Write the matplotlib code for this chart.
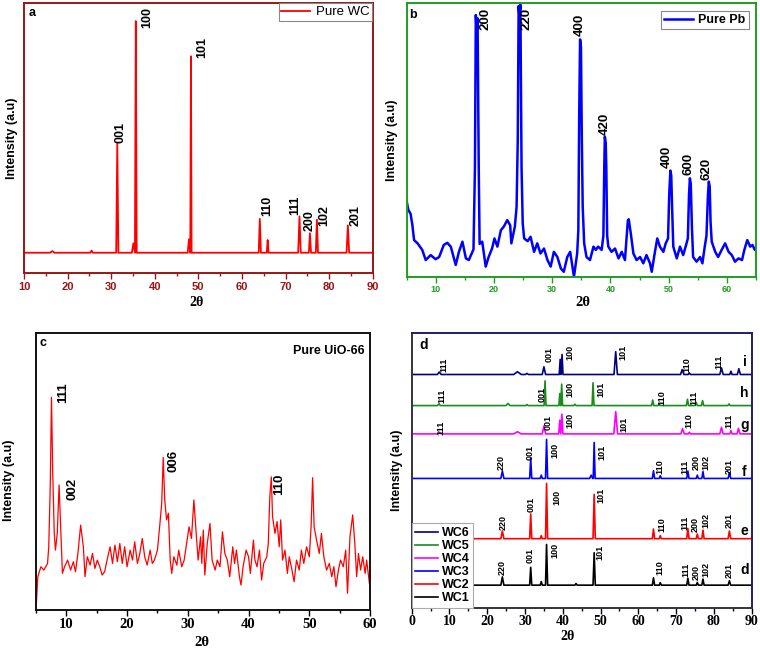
import numpy as np
import matplotlib
matplotlib.use('Agg')
import matplotlib.pyplot as plt
from matplotlib.ticker import MultipleLocator

plt.rcParams['font.family'] = ['Liberation Sans', 'DejaVu Sans']

# ---------------- Panel a : Pure WC (peak list: position, height above baseline, half width)
wc_base = 7.6
wc_pos = [16.5, 25.5, 31.4, 35.1, 35.65, 47.85, 48.3, 64.1, 65.9, 73.2, 75.6, 77.2, 84.3]
wc_hts = [0.6, 0.8, 40.3, 3.5, 85.6, 5.0, 72.6, 12.5, 4.7, 13.4, 7.2, 12.2, 10.1]
wc_wid = [0.5, 0.3, 0.25, 0.35, 0.2, 0.3, 0.15, 0.25, 0.2, 0.3, 0.25, 0.25, 0.3]
wc_labels = ['001', '100', '101', '110', '111', '200', '102', '201']
wc_label_x = [32.1, 38.3, 51.0, 65.9, 72.25, 75.5, 78.9, 86.0]
wc_label_y = [48.1, 90.7, 79.6, 21.0, 21.6, 15.8, 17.3, 17.3]

# ---------------- Panel b : Pure Pb (trace read point by point)
pb_x = [5.0, 5.3, 5.7, 6.0, 6.3, 6.9, 7.7, 8.3, 9.15, 10.0, 10.6, 11.4, 12.0, 12.6, 13.45, 14.0,
        14.6, 15.2, 15.7, 16.3, 16.5, 16.75, 16.9, 17.05, 17.2, 17.4, 17.55, 18.0, 18.6, 19.1,
        19.7, 20.1, 20.6, 21.2, 21.7, 22.3, 22.8, 23.0, 23.6, 23.9, 24.1, 24.25, 24.4, 24.55,
        24.75, 24.95, 25.2, 25.8, 26.3, 26.9, 27.45, 28.0, 28.6, 29.2, 29.75, 30.3, 30.9, 31.5,
        32.0, 32.6, 33.1, 33.4, 33.75, 34.3, 34.5, 34.65, 34.8, 34.95, 35.1, 35.25, 35.5, 35.9,
        36.5, 37.1, 37.5, 37.9, 38.5, 38.8, 38.95, 39.05, 39.2, 39.3, 39.45, 39.65, 40.2, 40.8,
        41.4, 41.95, 42.5, 42.8, 43.0, 43.15, 43.35, 43.5, 43.95, 44.5, 45.1, 45.65, 46.2, 46.8,
        47.1, 47.65, 48.05, 48.5, 49.1, 49.5, 49.9, 50.1, 50.3, 50.45, 50.6, 50.8, 51.4, 51.95,
        52.5, 53.0, 53.3, 53.5, 53.65, 53.8, 54.0, 54.2, 54.8, 55.4, 55.8, 56.2, 56.5, 56.75,
        56.9, 57.05, 57.2, 57.4, 58.0, 58.5, 59.1, 59.7, 60.3, 60.85, 61.4, 62.0, 62.6, 63.0,
        63.5, 64.0, 64.4, 64.8, 65.0]
pb_y = [28.0, 24.5, 23.0, 19.0, 13.4, 12.2, 9.8, 6.1, 7.9, 6.4, 7.2, 11.6, 12.4, 11.0, 4.3, 9.1,
        12.8, 6.7, 6.1, 9.1, 10.0, 40.0, 95.7, 90.0, 94.5, 40.0, 12.0, 12.8, 3.7, 7.2,
        10.4, 14.0, 11.0, 17.0, 18.3, 20.7, 18.8, 12.2, 18.3, 25.6, 50.0, 99.0, 95.0, 99.5,
        40.0, 19.5, 14.0, 13.0, 14.6, 9.1, 12.2, 8.5, 10.3, 6.1, 3.7, 9.1, 7.2, 3.0,
        1.8, 7.2, 9.1, 5.0, 0.0, 8.5, 17.0, 60.0, 86.8, 84.0, 50.0, 25.6, 12.2, 7.2,
        6.1, 11.0, 9.8, 11.0, 9.8, 15.0, 40.0, 51.2, 49.0, 40.0, 15.0, 11.0, 9.1, 10.3,
        6.7, 9.1, 6.1, 14.6, 20.5, 21.0, 18.0, 15.9, 8.5, 6.1, 7.2, 4.9, 7.9, 4.9,
        1.8, 9.1, 14.0, 11.0, 9.1, 12.2, 14.0, 30.0, 38.8, 37.0, 25.0, 11.0, 6.7, 11.0,
        7.9, 11.6, 14.0, 30.0, 36.0, 34.0, 18.0, 7.2, 5.5, 7.2, 4.9, 11.0, 15.0, 30.0,
        34.8, 33.0, 20.0, 12.8, 9.1, 7.2, 9.8, 12.2, 9.1, 7.9, 5.5, 6.7, 6.1, 9.8,
        13.4, 11.0, 11.6, 9.8, 10.5]
pb_labels = ['200', '220', '400', '420', '400', '600', '620']
pb_label_x = [18.55, 25.6, 34.7, 39.0, 49.7, 53.4, 56.5]
pb_label_y = [90.2, 90.2, 88.0, 51.8, 39.6, 37.2, 35.4]

# ---------------- Panel c : Pure UiO-66 (trace read point by point)
uio_x = [5.05, 5.3, 5.8, 6.3, 6.9, 7.1, 7.35, 7.55, 7.75, 8.0, 8.2, 8.5, 8.8, 9.1, 9.35, 9.7,
         10.2, 10.7, 11.15, 11.5, 11.9, 12.35, 12.8, 13.07, 13.45, 13.9, 14.3, 14.7, 15.1, 15.5,
         15.9, 16.3, 16.7, 17.2, 17.6, 18.0, 18.4, 18.8, 19.2, 19.6, 20.0, 20.5, 20.9, 21.25,
         21.7, 22.1, 22.5, 22.9, 23.3, 23.8, 24.15, 24.5, 25.0, 25.4, 25.7, 25.95, 26.2, 26.5,
         26.8, 27.1, 27.35, 27.7, 28.2, 28.5, 29.0, 29.4, 29.8, 30.2, 30.6, 31.0, 31.3, 31.7,
         32.1, 32.3, 32.55, 32.8, 33.2, 33.65, 34.0, 34.5, 34.85, 35.3, 35.7, 36.1, 36.5, 36.9,
         37.4, 37.7, 38.0, 38.5, 38.75, 39.1, 39.6, 40.0, 40.3, 40.8, 41.05, 41.4, 41.8, 42.15,
         42.5, 43.0, 43.25, 43.5, 43.75, 43.95, 44.35, 44.7, 45.05, 45.3, 45.6, 46.0, 46.4, 46.7,
         47.1, 47.5, 47.9, 48.35, 48.7, 49.1, 49.55, 50.0, 50.3, 50.55, 50.8, 51.2, 51.65, 52.0,
         52.4, 52.85, 53.3, 53.7, 54.05, 54.4, 54.8, 55.15, 55.6, 56.0, 56.3, 56.7, 57.15, 57.5,
         57.8, 58.1, 58.45, 58.8, 59.2, 59.45, 59.9]
uio_y = [1.8, 12.0, 15.6, 14.4, 16.8, 22.8, 45.0, 76.7, 50.0, 28.0, 21.6, 27.6, 45.1, 27.6, 13.2, 15.6,
         18.0, 14.4, 17.4, 13.8, 20.4, 30.6, 22.8, 12.0, 19.2, 16.2, 20.4, 15.0, 18.0, 15.6,
         12.6, 13.8, 18.0, 22.8, 16.8, 23.4, 17.4, 24.0, 16.8, 22.8, 15.6, 21.6, 18.0, 24.6,
         16.8, 20.4, 25.8, 19.2, 16.2, 21.6, 16.8, 18.0, 21.6, 31.0, 38.5, 55.0, 39.7, 32.5,
         34.9, 18.0, 13.2, 19.2, 16.2, 21.6, 15.6, 18.0, 24.0, 30.0, 25.8, 39.7, 30.0, 18.0,
         26.4, 16.8, 28.8, 12.6, 24.0, 31.2, 18.0, 14.4, 18.0, 15.6, 28.2, 20.4, 18.0, 12.0,
         22.8, 16.8, 21.6, 12.0, 9.0, 15.6, 21.6, 19.2, 13.2, 25.2, 18.0, 15.6, 21.6, 10.8,
         16.8, 19.2, 24.0, 40.9, 48.0, 33.7, 27.6, 31.9, 22.8, 32.5, 18.0, 21.6, 13.2, 19.2,
         15.0, 10.2, 18.0, 14.4, 21.6, 16.8, 22.8, 19.2, 30.0, 47.7, 30.0, 25.2, 20.4, 27.6,
         19.2, 14.4, 16.8, 12.0, 15.6, 8.4, 14.4, 18.0, 15.6, 21.6, 6.0, 26.4, 34.3, 24.0,
         12.0, 20.4, 14.4, 19.2, 13.2, 18.0, 9.6]
uio_labels = ['111', '002', '006', '110']
uio_label_x = [9.5, 11.0, 27.7, 45.1]
uio_label_y = [74.5, 39.7, 49.9, 41.5]

# ---------------- Panel d : composites (peaks: position, height above own baseline, half width)
series_names = ['WC1', 'WC2', 'WC3', 'WC4', 'WC5', 'WC6']
series_letters = ['d', 'e', 'f', 'g', 'h', 'i']
series_base = [8.2, 25.1, 47.0, 63.2, 73.5, 84.8]

wc1_pos = [24.0, 31.5, 34.3, 35.7, 43.5, 48.3, 64.0, 65.8, 73.1, 75.6, 77.1, 84.1]
wc1_hts = [3.0, 6.5, 1.3, 14.8, 0.6, 11.8, 2.7, 0.9, 2.5, 1.0, 2.2, 1.6]
wc1_wid = [0.4, 0.28, 0.28, 0.28, 0.28, 0.3, 0.3, 0.28, 0.3, 0.28, 0.3, 0.35]
wc2_pos = [24.0, 31.5, 34.3, 35.7, 48.3, 64.0, 65.8, 73.1, 75.6, 77.1, 84.1]
wc2_hts = [2.8, 9.0, 1.1, 20.1, 16.1, 3.5, 1.1, 3.7, 1.7, 3.1, 2.8]
wc2_wid = [0.4, 0.28, 0.28, 0.28, 0.3, 0.3, 0.28, 0.3, 0.28, 0.3, 0.35]
wc3_pos = [24.0, 31.5, 34.3, 35.7, 47.5, 48.3, 64.0, 65.8, 73.1, 75.6, 77.1, 84.1]
wc3_hts = [2.7, 7.3, 1.2, 14.2, 1.2, 13.1, 2.8, 1.0, 2.7, 1.2, 2.5, 2.1]
wc3_wid = [0.4, 0.28, 0.28, 0.28, 0.4, 0.25, 0.3, 0.28, 0.3, 0.28, 0.3, 0.35]
wc4_pos = [7.3, 28.0, 35.0, 39.2, 39.75, 54.0, 71.7, 73.5, 82.0, 84.5, 86.5]
wc4_hts = [0.6, 0.8, 2.9, 5.0, 7.2, 8.1, 1.9, 0.6, 2.4, 1.2, 2.0]
wc4_wid = [0.5, 1.0, 0.45, 0.27, 0.28, 0.5, 0.45, 0.3, 0.45, 0.3, 0.4]
wc5_pos = [7.2, 25.5, 30.5, 35.3, 39.2, 39.7, 43.2, 48.0, 63.8, 65.5, 73.0, 75.3, 77.0, 84.0]
wc5_hts = [0.6, 0.8, 0.4, 9.0, 4.4, 7.8, 0.5, 8.3, 2.0, 0.5, 2.3, 1.2, 1.8, 0.6]
wc5_wid = [0.4, 0.5, 0.3, 0.25, 0.24, 0.24, 0.3, 0.25, 0.3, 0.3, 0.3, 0.3, 0.3, 0.3]
wc6_pos = [7.3, 28.0, 30.5, 35.0, 39.3, 39.8, 54.0, 71.6, 73.5, 82.0, 84.5, 86.6]
wc6_hts = [0.9, 1.0, 0.4, 2.8, 5.5, 7.3, 8.3, 1.8, 0.6, 2.4, 1.2, 2.1]
wc6_wid = [0.5, 1.0, 0.4, 0.45, 0.25, 0.25, 0.45, 0.45, 0.3, 0.45, 0.3, 0.4]

lab_6 = ['111', '001', '100', '101', '110', '111']
lab_5 = ['111', '001', '100', '101', '110', '111']
lab_4 = ['111', '001', '100', '101', '110', '111']
lab_wc = ['220', '001', '100', '101', '110', '111', '200', '102', '201']

# label placements (x, bottom y) for panel d
d_lab_x = {
    'WC6': [8.4, 36.5, 41.9, 56.0, 72.8, 81.2],
    'WC5': [7.9, 34.4, 41.9, 50.0, 66.2, 74.6],
    'WC4': [7.7, 36.2, 41.9, 56.3, 73.3, 84.1],
    'WC3': [23.8, 31.3, 38.0, 50.3, 65.6, 72.4, 75.4, 77.9, 84.1],
    'WC2': [24.3, 31.5, 38.4, 50.1, 66.2, 72.4, 75.0, 77.9, 84.1],
    'WC1': [24.1, 31.3, 37.8, 49.9, 65.6, 72.6, 75.4, 77.9, 84.1],
}
d_lab_y = {
    'WC6': [85.8, 89.5, 90.1, 90.1, 85.8, 86.9],
    'WC5': [74.3, 74.9, 76.7, 76.7, 73.7, 73.7],
    'WC4': [62.8, 64.6, 65.2, 64.0, 65.2, 65.2],
    'WC3': [50.1, 53.7, 54.3, 53.7, 48.8, 48.8, 50.1, 50.1, 48.8],
    'WC2': [28.1, 34.9, 37.3, 37.9, 27.6, 28.1, 27.6, 28.8, 28.8],
    'WC1': [11.9, 16.1, 17.9, 17.3, 11.9, 11.3, 10.1, 11.3, 10.7],
}
letter_y = [13.7, 28.0, 49.5, 66.4, 77.9, 89.5]


def trace(pos, hts, wid, x0, x1):
    xs, ys = [x0], [0.0]
    for p, h, w in zip(pos, hts, wid):
        xs += [p - w, p, p + w]
        ys += [0.0, h, 0.0]
    xs.append(x1)
    ys.append(0.0)
    return np.array(xs), np.array(ys)


W, H = 760, 650
fig = plt.figure(figsize=(7.6, 6.5), dpi=100)


def rect(l, t, r, b):
    return [l / W, 1 - b / H, (r - l) / W, (b - t) / H]


def ftext(x, y, s, **kw):
    fig.text(x / W, 1 - y / H, s, **kw)


SERIF = ['Liberation Serif', 'DejaVu Serif']

# ---------------- Panel a
ax = fig.add_axes(rect(24, 2.7, 372.7, 273.3))
dark_red = '#9A1515'
x, y = trace(wc_pos, wc_hts, wc_wid, 10, 90)
ax.plot(x, y + wc_base, color='#FF0000', lw=1.3, label='Pure WC')
ax.set_xlim(10, 90)
ax.set_ylim(0, 100)
for s in ax.spines.values():
    s.set_color(dark_red)
    s.set_linewidth(1.4)
ax.xaxis.set_major_locator(MultipleLocator(10))
ax.xaxis.set_minor_locator(MultipleLocator(5))
ax.tick_params(axis='x', which='major', direction='out', length=4, width=1, color=dark_red,
               labelcolor=dark_red, labelsize=8, pad=2)
ax.tick_params(axis='x', which='minor', direction='out', length=2.5, width=1, color=dark_red)
ax.tick_params(axis='y', left=False, labelleft=False)
for t in ax.get_xticklabels():
    t.set_fontweight('bold')
for s, lx, ly in zip(wc_labels, wc_label_x, wc_label_y):
    ax.text(lx, ly, s, rotation=90, ha='center', va='bottom', fontsize=9, fontweight='bold')
leg = ax.legend(loc='upper right', bbox_to_anchor=(1, 1), borderaxespad=0.05, fontsize=9.5,
                fancybox=False, edgecolor='#888888', framealpha=1, handlelength=2.2,
                borderpad=0.2, handletextpad=0.4)
leg.get_frame().set_linewidth(0.8)
ftext(32, 13, 'a', fontsize=9, fontweight='bold', ha='center', va='center')
ftext(12, 138, 'Intensity (a.u)', rotation=90, fontsize=9, fontweight='bold', ha='center', va='center')
ftext(197, 302, '2θ', fontsize=10, fontweight='bold', ha='center', va='center', family=SERIF)

# ---------------- Panel b
ax = fig.add_axes(rect(406.5, 3.3, 756, 276.7))
green = '#1F9E1F'
ax.plot(pb_x, pb_y, color='#0000FF', lw=1.8, label='Pure Pb')
ax.set_xlim(5, 65)
ax.set_ylim(0, 100)
for s in ax.spines.values():
    s.set_color(green)
    s.set_linewidth(1.4)
ax.xaxis.set_major_locator(MultipleLocator(10))
ax.xaxis.set_minor_locator(MultipleLocator(5))
ax.tick_params(axis='x', which='major', direction='out', length=4, width=1, color=green,
               labelcolor=green, labelsize=6.5, pad=2)
ax.tick_params(axis='x', which='minor', direction='out', length=2.5, width=1, color=green)
ax.tick_params(axis='y', left=False, labelleft=False)
for t in ax.get_xticklabels():
    t.set_fontweight('bold')
for s, lx, ly in zip(pb_labels, pb_label_x, pb_label_y):
    ax.text(lx, ly, s, rotation=90, ha='center', va='bottom', fontsize=9.5, fontweight='bold')
leg = ax.legend(loc='upper right', borderaxespad=0.6, prop={'size': 9, 'weight': 'bold'},
                fancybox=False, edgecolor='#888888', framealpha=1, handlelength=2.3,
                borderpad=0.25, handletextpad=0.4)
leg.get_frame().set_linewidth(0.8)
ftext(413, 15, 'b', fontsize=9, fontweight='bold', ha='center', va='center')
ftext(392, 140, 'Intensity (a.u)', rotation=90, fontsize=9, fontweight='bold', ha='center', va='center')
ftext(583, 302, '2θ', fontsize=10.5, fontweight='bold', ha='center', va='center', family=SERIF)

# ---------------- Panel c
ax = fig.add_axes(rect(36, 332.7, 370, 610))
ax.plot(uio_x, uio_y, color='#FF0000', lw=0.9)
ax.set_xlim(5, 60)
ax.set_ylim(0, 100)
for s in ax.spines.values():
    s.set_color('#111111')
    s.set_linewidth(1.4)
ax.xaxis.set_major_locator(MultipleLocator(10))
ax.xaxis.set_minor_locator(MultipleLocator(5))
ax.tick_params(axis='x', which='major', direction='out', length=4, width=1, labelsize=10.5, pad=2)
ax.tick_params(axis='x', which='minor', direction='out', length=2.5, width=1)
ax.tick_params(axis='y', left=False, labelleft=False)
for t in ax.get_xticklabels():
    t.set_fontweight('bold')
    t.set_family(SERIF)
for s, lx, ly in zip(uio_labels, uio_label_x, uio_label_y):
    ax.text(lx, ly, s, rotation=90, ha='center', va='bottom', fontsize=9.5, fontweight='bold')
ax.text(0.985, 0.935, 'Pure UiO-66', transform=ax.transAxes, ha='right', va='center',
        fontsize=9, fontweight='bold')
ftext(43, 343, 'c', fontsize=9, fontweight='bold', ha='center', va='center')
ftext(9, 480, 'Intensity (a.u)', rotation=90, fontsize=9, fontweight='bold', ha='center', va='center')
ftext(202, 643, '2θ', fontsize=10.5, fontweight='bold', ha='center', va='center', family=SERIF)

# ---------------- Panel d
ax = fig.add_axes(rect(411.7, 332.7, 751.7, 607.7))
colors = ['#000000', '#FF0000', '#0000FF', '#FF00FF', '#1A8C1A', '#000080']
all_pos = [wc1_pos, wc2_pos, wc3_pos, wc4_pos, wc5_pos, wc6_pos]
all_hts = [wc1_hts, wc2_hts, wc3_hts, wc4_hts, wc5_hts, wc6_hts]
all_wid = [wc1_wid, wc2_wid, wc3_wid, wc4_wid, wc5_wid, wc6_wid]
all_labels = [lab_wc, lab_wc, lab_wc, lab_4, lab_5, lab_6]
handles = []
for name, letter, base, pos, hts, wid, col, labs, ly_l in zip(
        series_names, series_letters, series_base, all_pos, all_hts, all_wid, colors,
        all_labels, letter_y):
    x, y = trace(pos, hts, wid, 0, 90)
    ln, = ax.plot(x, y + base, color=col, lw=1.2, label=name)
    handles.append(ln)
    for s, lx, ly in zip(labs, d_lab_x[name], d_lab_y[name]):
        ax.text(lx, ly, s, rotation=90, ha='center', va='bottom', fontsize=6.5, fontweight='bold')
    ax.text(88.1, ly_l, letter, ha='center', va='center', fontsize=10, fontweight='bold')
ax.set_xlim(0, 90)
ax.set_ylim(0, 100)
for k, s in ax.spines.items():
    s.set_color('#1E1E6E' if k in ('top', 'right') else '#333340')
    s.set_linewidth(1.4)
ax.xaxis.set_major_locator(MultipleLocator(10))
ax.xaxis.set_minor_locator(MultipleLocator(5))
ax.tick_params(axis='x', which='major', direction='out', length=4, width=1, labelsize=10, pad=1.5)
ax.tick_params(axis='x', which='minor', direction='out', length=2.5, width=1)
ax.tick_params(axis='y', left=False, labelleft=False)
for t in ax.get_xticklabels():
    t.set_fontweight('bold')
    t.set_family(SERIF)
ax.text(3.1, 95.5, 'd', ha='center', va='center', fontsize=10, fontweight='bold')
leg = ax.legend(handles[::-1], [h.get_label() for h in handles[::-1]], loc='lower left',
                bbox_to_anchor=(0, 0), borderaxespad=0.0, frameon=True, fancybox=False,
                edgecolor='#aaaaaa', framealpha=1, prop={'weight': 'bold', 'size': 9},
                handlelength=1.8, handletextpad=0.3, labelspacing=0.08, borderpad=0.3)
leg.get_frame().set_linewidth(0.8)
ftext(397, 470, 'Intensity (a.u)', rotation=90, fontsize=9, fontweight='bold', ha='center', va='center')
ftext(568, 636, '2θ', fontsize=10, fontweight='bold', ha='center', va='center', family=SERIF)

fig.savefig('out.png', dpi=100)
